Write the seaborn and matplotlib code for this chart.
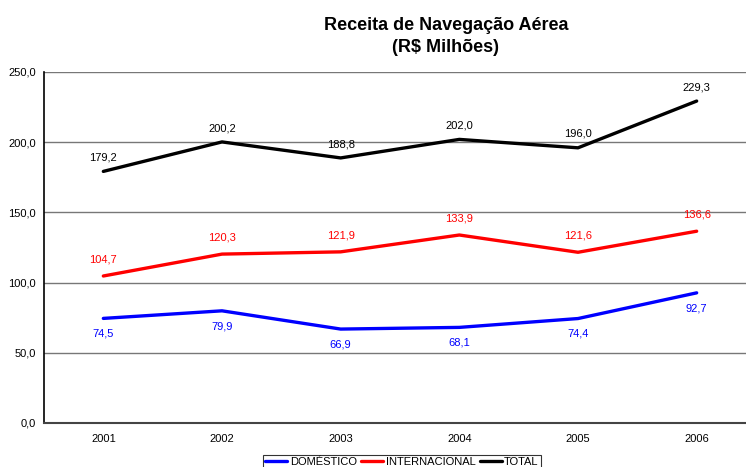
import pandas as pd
import matplotlib.pyplot as plt
import seaborn as sns
from matplotlib.ticker import FuncFormatter, FixedLocator

# Data
anos = ["2001", "2002", "2003", "2004", "2005", "2006"]
domestico = [74.5, 79.9, 66.9, 68.1, 74.4, 92.7]
internacional = [104.7, 120.3, 121.9, 133.9, 121.6, 136.6]
total = [179.2, 200.2, 188.8, 202.0, 196.0, 229.3]

series = ["DOMÉSTICO", "INTERNACIONAL", "TOTAL"]
cores = ["#0000ff", "#ff0000", "#000000"]

df = pd.DataFrame({
    "ano": anos * 3,
    "pos": list(range(len(anos))) * 3,
    "valor": domestico + internacional + total,
    "serie": [s for s in series for _ in anos],
})

sns.set_style("white", {"text.color": "black", "xtick.color": "black",
                        "ytick.color": "black", "axes.labelcolor": "black"})
plt.rcParams["font.family"] = ["Liberation Sans", "DejaVu Sans"]

fig = plt.figure(figsize=(7.46, 4.67), dpi=100)
ax = fig.add_axes([44 / 746, 44 / 467, 712 / 746, 351 / 467])

sns.lineplot(data=df, x="pos", y="valor", hue="serie", palette=cores,
             hue_order=series, linewidth=2.4, ax=ax, legend=True)

# value labels
offsets = {"DOMÉSTICO": -11, "INTERNACIONAL": 12, "TOTAL": 10}
for s, cor, vals in zip(series, cores, [domestico, internacional, total]):
    for i, v in enumerate(vals):
        ax.annotate(f"{v:.1f}".replace(".", ","), (i, v),
                    xytext=(0, offsets[s]), textcoords="offset points",
                    ha="center", va="center", fontsize=8, color=cor)

ax.set_xlim(-0.5, 5.5)
ax.set_ylim(0, 250)
ax.set_yticks([0, 50, 100, 150, 200, 250])
ax.yaxis.set_major_formatter(FuncFormatter(lambda v, p: f"{v:.1f}".replace(".", ",")))
ax.set_xticks(range(len(anos)))
ax.set_xticklabels(anos)
ax.xaxis.set_minor_locator(FixedLocator([i + 0.5 for i in range(-1, len(anos))]))
ax.tick_params(axis="x", which="major", length=0, pad=8, labelsize=8)
ax.tick_params(axis="x", which="minor", length=4, width=1, color="#333333", direction="inout")
ax.tick_params(axis="y", length=4, width=1, color="#333333", direction="out", labelsize=8, pad=2)
ax.set_xlabel("")
ax.set_ylabel("")

ax.yaxis.grid(True, color="#777777", linewidth=1)
ax.set_axisbelow(True)
for side in ["top", "right"]:
    ax.spines[side].set_visible(False)
ax.spines["left"].set_color("black")
ax.spines["left"].set_linewidth(1.2)
ax.spines["bottom"].set_color("#444444")
ax.spines["bottom"].set_linewidth(1.5)

fig.text(446 / 746, 1 - 25 / 467, "Receita de Navegação Aérea", ha="center", va="center",
         fontsize=13, fontweight="bold", color="black")
fig.text(446 / 746, 1 - 48 / 467, "(R$ Milhões)", ha="center", va="center",
         fontsize=13, fontweight="bold", color="black")

handles, labels = ax.get_legend_handles_labels()
leg = ax.legend(handles, labels, loc="lower center", bbox_to_anchor=(402 / 746, -2 / 467),
                bbox_transform=fig.transFigure, ncol=3, frameon=True, fancybox=False,
                edgecolor="black", fontsize=8, handlelength=2.0, handletextpad=0.2,
                columnspacing=0.4, borderpad=0.2, borderaxespad=0)
leg.get_frame().set_linewidth(0.8)

fig.savefig("out.png", dpi=100, facecolor="white")
